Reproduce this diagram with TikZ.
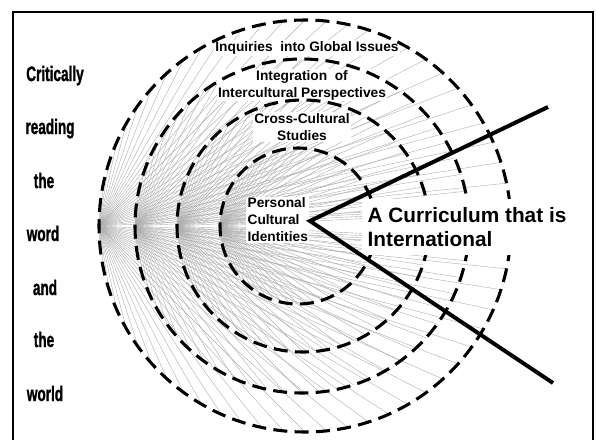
\documentclass[tikz,border=0pt]{standalone}
\usepackage{fontspec}
\setmainfont{Liberation Sans}
\newfontfamily\sidefont[FakeBold=1.6]{Liberation Sans Bold}
\tikzset{
  fanline/.style={draw=black!32, line width=0.3pt},
  ring/.style={draw=black, line width=2.3pt, dash pattern=on 10.5pt off 5.5pt},
  boldline/.style={draw=black, line width=3pt},
  lbl/.style={font=\fontsize{10.3}{12.75}\selectfont\bfseries, text=black, inner sep=1pt, fill=white},
  bigl/.style={font=\fontsize{15.6}{18}\selectfont\bfseries, align=left, fill=white, inner xsep=4pt, inner ysep=6pt},
  sidew/.style={font=\fontsize{15}{15}\sidefont, inner sep=0pt, anchor=base}
}
\newcommand{\narrow}[1]{\scalebox{0.68}[1.05]{#1}}
\begin{document}
\begin{tikzpicture}[x=0.75pt,y=-0.75pt]
\useasboundingbox (0,0) rectangle (596,439);
% frame (bottom edge lies beyond the page)
\draw[line width=1.6pt] (13,470) -- (13,12) -- (593,12) -- (593,470);
% fan lines
\foreach \cx/\r in {305/206,302/167,303/126,298/78}{
  \foreach \a in {6,12,...,354}{
    \draw[fanline] ({\cx-\r},226) -- ({\cx+\r*cos(\a)},{226+\r*sin(\a)});
  }
}
% ring labels
\node[lbl] (inq) at (307,48) {Inquiries\ \ into Global Issues};
\node[lbl, align=center] (integ) at (302,85) {Integration\ \ of\\Intercultural\ Perspectives};
\node[lbl, align=center] (cross) at (302,127) {Cross-Cultural\\Studies};
\node[lbl, align=left, anchor=west] (pers) at (246,220) {Personal\\Cultural\\Identities};
% dashed rings
\draw[ring] (305,226) circle (206);
\draw[ring] (302,226) circle (167);
\draw[ring] (303,226) circle (126);
\draw[ring] (298,226) circle (78);
% big label
\node[bigl, anchor=north west] (curr) at (362,199) {A Curriculum that is\\International};
% bold wedge
\coordinate (apex) at (310,221);
\coordinate (upend) at (548,107);
\coordinate (downend) at (553,383);
\draw[boldline] (upend) -- (apex) -- (downend);
% left words
\node[sidew] (w1) at (55,81) {\narrow{Critically}};
\node[sidew] (w2) at (50,134) {\narrow{reading}};
\node[sidew] (w3) at (44,188) {\narrow{the}};
\node[sidew] (w4) at (43,241) {\narrow{word}};
\node[sidew] (w5) at (45,295) {\narrow{and}};
\node[sidew] (w6) at (44,347) {\narrow{the}};
\node[sidew] (w7) at (45,401) {\narrow{world}};
\end{tikzpicture}
\end{document}
